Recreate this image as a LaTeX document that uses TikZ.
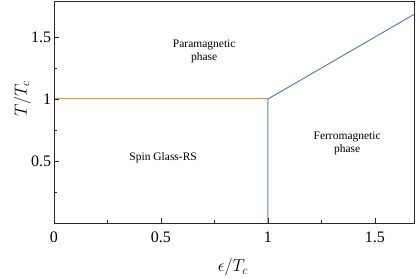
\documentclass[tikz,border=0pt]{standalone}
\usepackage{fontspec}
\setmainfont{Liberation Serif}
\usetikzlibrary{positioning,calc}
\definecolor{lineorange}{RGB}{240,150,40}
\definecolor{lineblue}{RGB}{94,129,181}
\definecolor{framegray}{RGB}{40,40,40}
\newcommand{\xtick}[2]{\draw[framegray,line width=0.6pt] (#1,0) -- ++(0,#2);}
\newcommand{\ytick}[2]{\draw[framegray,line width=0.6pt] (0,#1) -- ++(#2,0);}
\tikzset{
  phaselabel/.style={font=\fontsize{11.5}{13}\selectfont,align=center,inner sep=0pt},
  ticklabel/.style={font=\fontsize{16}{18}\selectfont,inner sep=0pt},
  axislabel/.style={font=\fontsize{18}{20}\selectfont,inner sep=0pt}
}

\begin{document}
\begin{tikzpicture}[x=214pt,y=124pt]
		\useasboundingbox (-54pt,-55pt) rectangle (362pt,223pt);
		\coordinate (origin) at (0,0);
		\coordinate (tri) at (1,1);
		\coordinate (left1) at (0,1);
		\coordinate (base1) at (1,0);
		\coordinate (ferroend) at (1.682,1.682);
		% phase boundaries
		\draw[lineorange,line width=1pt] (left1) -- (tri);
		\draw[lineblue,line width=1pt] (base1) -- (tri) -- (ferroend);
		% frame and ticks
		\draw[framegray,line width=0.8pt] (origin) rectangle (1.682,1.79);
		\xtick{0.25}{0.025}\xtick{0.5}{0.04}\xtick{0.75}{0.025}\xtick{1}{0.04}\xtick{1.25}{0.025}\xtick{1.5}{0.04}
		\ytick{0.25}{0.015}\ytick{0.5}{0.025}\ytick{0.75}{0.015}\ytick{1}{0.025}\ytick{1.25}{0.015}\ytick{1.5}{0.025}
		\node[ticklabel] (x0) at (0,-0.115) {0};
		\node[ticklabel] (x05) at (0.5,-0.115) {0.5};
		\node[ticklabel] (x1) at (1,-0.115) {1};
		\node[ticklabel] (x15) at (1.5,-0.115) {1.5};
		\node[ticklabel,anchor=east] (y05) at (-0.012,0.5) {0.5};
		\node[ticklabel,anchor=east] (y1) at (-0.012,1) {1};
		\node[ticklabel,anchor=east] (y15) at (-0.012,1.5) {1.5};
		\node[axislabel] (xlab) at (0.836,-0.36) {$\epsilon/T_c$};
		\node[axislabel,rotate=90] (ylab) at (-0.148,1.0) {$T/T_c$};
		% phase names
		\node[phaselabel] (para) at (0.702,1.38) {Paramagnetic\\phase};
		\node[phaselabel] (spin) at (0.51,0.53) {Spin Glass-RS};
		\node[phaselabel] (ferro) at (1.37,0.645) {Ferromagnetic\\phase};
\end{tikzpicture}
\end{document}
